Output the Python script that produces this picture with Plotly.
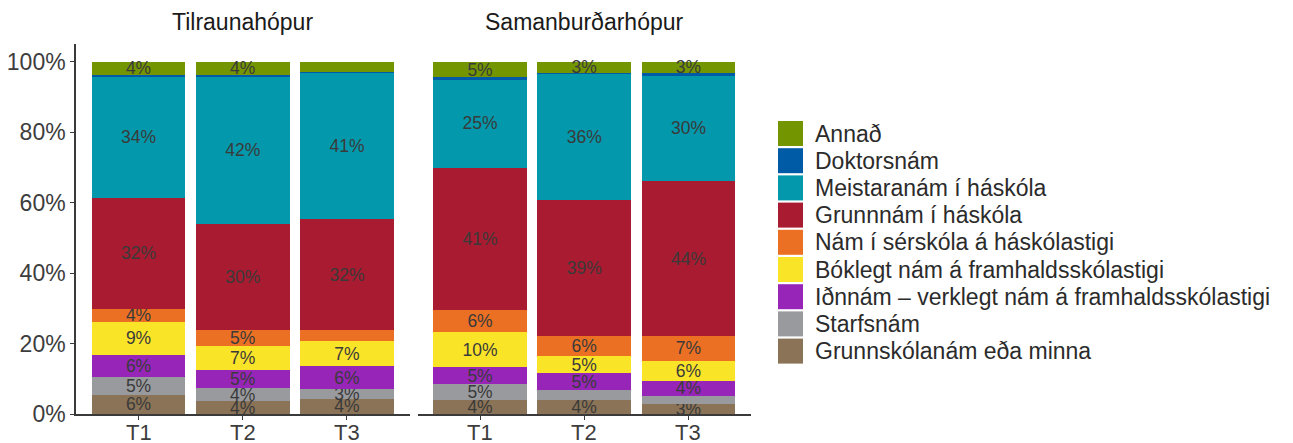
import plotly.graph_objects as go

# stacked education shares (%), order: T1, T2, T3 (Tilraunahópur) then T1, T2, T3 (Samanburðarhópur)
groups = ["Tilraunahópur", "Samanburðarhópur"]
times = ["T1", "T2", "T3"]

categories = [
    "Grunnskólanám eða minna",
    "Starfsnám",
    "Iðnnám – verklegt nám á framhaldsskólastigi",
    "Bóklegt nám á framhaldsskólastigi",
    "Nám í sérskóla á háskólastigi",
    "Grunnnám í háskóla",
    "Meistaranám í háskóla",
    "Doktorsnám",
    "Annað",
]
colors = ["#8A7356", "#999A9E", "#9726B8", "#FAE428", "#EC7024",
          "#A91B30", "#0398AB", "#005BA6", "#739600"]

grunnskola = [5.5, 3.6, 4.3, 4.0, 4.0, 2.8]
starfsnam = [5.1, 3.7, 2.8, 4.6, 2.8, 2.3]
idnnam = [6.2, 5.2, 6.4, 4.6, 4.8, 4.3]
boklegt = [9.4, 6.7, 7.1, 10.2, 4.8, 5.7]
serskola = [3.7, 4.6, 3.1, 6.0, 5.7, 7.1]
grunnnam = [31.5, 30.1, 31.5, 40.5, 38.6, 43.8]
meistaranam = [34.4, 42.0, 41.6, 25.1, 36.0, 30.2]
doktorsnam = [0.5, 0.4, 0.3, 0.5, 0.2, 0.5]
annad = [3.7, 3.7, 2.9, 4.5, 3.1, 3.3]

grunnskola_lbl = ["6%", "4%", "4%", "4%", "4%", "3%"]
starfsnam_lbl = ["5%", "4%", "3%", "5%", "", ""]
idnnam_lbl = ["6%", "5%", "6%", "5%", "5%", "4%"]
boklegt_lbl = ["9%", "7%", "7%", "10%", "5%", "6%"]
serskola_lbl = ["4%", "5%", "", "6%", "6%", "7%"]
grunnnam_lbl = ["32%", "30%", "32%", "41%", "39%", "44%"]
meistaranam_lbl = ["34%", "42%", "41%", "25%", "36%", "30%"]
doktorsnam_lbl = ["", "", "", "", "", ""]
annad_lbl = ["4%", "4%", "", "5%", "3%", "3%"]

y_ticks = [0, 20, 40, 60, 80, 100]
y_ticklabels = ["0%", "20%", "40%", "60%", "80%", "100%"]

values = [grunnskola, starfsnam, idnnam, boklegt, serskola,
          grunnnam, meistaranam, doktorsnam, annad]
labels = [grunnskola_lbl, starfsnam_lbl, idnnam_lbl, boklegt_lbl, serskola_lbl,
          grunnnam_lbl, meistaranam_lbl, doktorsnam_lbl, annad_lbl]

FONT = "Liberation Sans, Arial, sans-serif"
W, H = 1293, 443
L, R, T, B = 76, 751, 44, 414   # plot area in pixels
pw, ph = R - L, B - T

def px_x(x):
    return (x - L) / pw

def px_y(y):
    return (B - y) / ph

fig = go.Figure()

for gi, g in enumerate(groups):
    xa = "x" if gi == 0 else "x2"
    for ci, cat in enumerate(categories):
        fig.add_trace(go.Bar(
            x=times,
            y=values[ci][gi * 3:gi * 3 + 3],
            text=labels[ci][gi * 3:gi * 3 + 3],
            name=cat,
            xaxis=xa, yaxis="y",
            marker=dict(color=colors[ci], line=dict(width=0)),
            textposition="inside",
            insidetextanchor="middle",
            textangle=0,
            textfont=dict(family=FONT, size=17.5, color="#3a3a3a"),
            showlegend=False,
            hoverinfo="skip",
        ))
    # x tick labels sit closer to the axis than plotly allows, so draw them as text
    for t in times:
        fig.add_annotation(text=t, x=t, y=px_y(432), xref=xa, yref="paper",
                           showarrow=False, xanchor="center", yanchor="middle",
                           font=dict(family=FONT, size=22, color="#3d3d3d"))

gap = 8 / pw
axis_common = dict(
    type="category", range=[-0.6, 2.6], showline=True, linecolor="#3a3a3a",
    linewidth=1.5, ticks="outside", ticklen=4, tickcolor="#3a3a3a",
    showticklabels=False, showgrid=False,
    zeroline=False, fixedrange=True, automargin=False,
)
fig.update_layout(
    width=W, height=H,
    margin=dict(l=L, r=W - R, t=T, b=H - B),
    paper_bgcolor="white", plot_bgcolor="white",
    barmode="stack", bargap=0.1,
    uniformtext=dict(minsize=17, mode="show"),
    xaxis=dict(domain=[0, 0.5 - gap / 2], anchor="y", **axis_common),
    xaxis2=dict(domain=[0.5 + gap / 2, 1], anchor="y", **axis_common),
    yaxis=dict(range=[0, 105], tickmode="array", tickvals=y_ticks, ticktext=y_ticklabels,
               showline=True, linecolor="#3a3a3a", linewidth=1.5,
               ticks="outside", ticklen=4, tickcolor="#3a3a3a",
               tickfont=dict(family=FONT, size=23, color="#3d3d3d"),
               showgrid=False, zeroline=False, fixedrange=True, automargin=False),
    showlegend=False,
)

# facet titles
for gi, g in enumerate(groups):
    cx = (0.5 - gap / 2) / 2 if gi == 0 else (0.5 + gap / 2 + 1) / 2
    fig.add_annotation(text=g, x=cx, y=px_y(22), xref="paper", yref="paper",
                       showarrow=False, xanchor="center", yanchor="middle",
                       font=dict(family=FONT, size=23, color="#1a1a1a"))

# legend drawn by hand (top item = last category)
for i, ci in enumerate(reversed(range(len(categories)))):
    cy = 133.5 + i * 27.2
    fig.add_shape(type="rect", xref="paper", yref="paper",
                  x0=px_x(778), x1=px_x(803), y0=px_y(cy - 12.5), y1=px_y(cy + 12.5),
                  fillcolor=colors[ci], line=dict(width=0))
    fig.add_annotation(text=categories[ci], x=px_x(813), y=px_y(cy),
                       xref="paper", yref="paper", showarrow=False,
                       xanchor="left", yanchor="middle",
                       font=dict(family=FONT, size=23, color="#2b2b2b"))

fig.write_html("out.html", config={"displayModeBar": False},
               post_script="document.body.style.margin='0';")
